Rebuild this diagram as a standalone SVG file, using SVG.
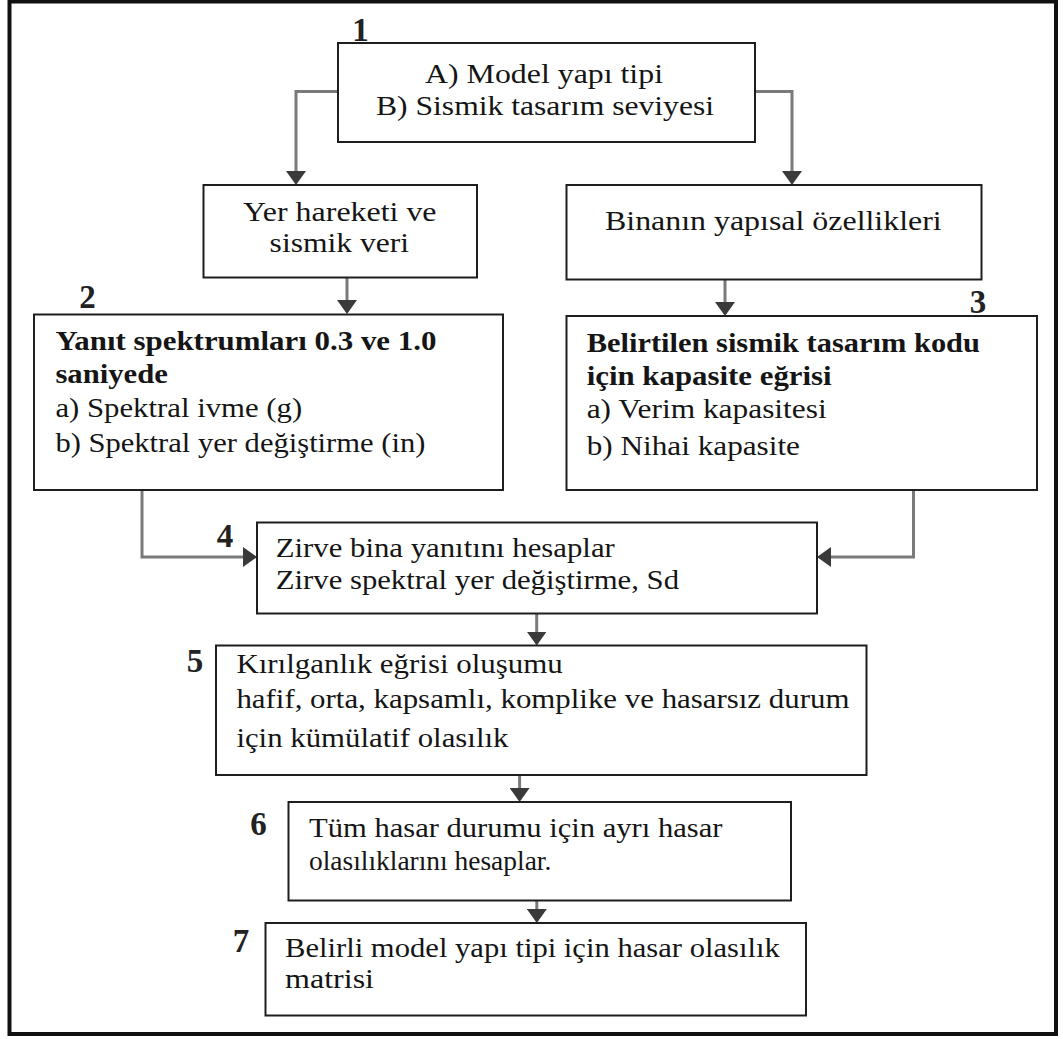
<svg xmlns="http://www.w3.org/2000/svg" width="1063" height="1039" viewBox="0 0 1063 1039">
<style>
.box{fill:#fff;stroke:#1e1e1e;stroke-width:2}
.t{font-family:"Liberation Serif","Times New Roman",serif;font-size:28px;fill:#151515}
.b{font-weight:bold}
.c{text-anchor:middle}
.num{font-family:"Liberation Serif","Times New Roman",serif;font-size:33px;font-weight:bold;fill:#222;text-anchor:middle}
.conn{fill:none;stroke:#7a7a7a;stroke-width:3}
</style>
<defs>
<marker id="ah" markerUnits="userSpaceOnUse" viewBox="0 0 14 20" refX="12" refY="10" markerWidth="14" markerHeight="20" orient="auto">
<path d="M0,0 L14,10 L0,20 z" fill="#3a3a3a"/>
</marker>
</defs>
<rect x="0" y="0" width="1063" height="1039" fill="#fff"/>
<rect id="frame" x="9.5" y="1.5" width="1046.5" height="1032.5" fill="none" stroke="#111" stroke-width="4"/>

<g id="connectors">
<path class="conn" d="M338,91.5 H296 V183" marker-end="url(#ah)"/>
<path class="conn" d="M755,91.5 H792 V183" marker-end="url(#ah)"/>
<path class="conn" d="M347,277.5 V312" marker-end="url(#ah)"/>
<path class="conn" d="M725,279.5 V314" marker-end="url(#ah)"/>
<path class="conn" d="M142,490 V557 H255" marker-end="url(#ah)"/>
<path class="conn" d="M913.5,490 V557 H819" marker-end="url(#ah)"/>
<path class="conn" d="M536.7,613.5 V643.5" marker-end="url(#ah)"/>
<path class="conn" d="M519.6,775 V800" marker-end="url(#ah)"/>
<path class="conn" d="M536.8,901 V921" marker-end="url(#ah)"/>
</g>

<g id="n1">
<rect class="box" x="338" y="43" width="417" height="99"/>
<text class="t" x="425" y="83" textLength="238" lengthAdjust="spacingAndGlyphs">A) Model yapı tipi</text>
<text class="t" x="376" y="115" textLength="338" lengthAdjust="spacingAndGlyphs">B) Sismik tasarım seviyesi</text>
<text class="num" x="360.5" y="41">1</text>
</g>

<g id="n_yer">
<rect class="box" x="203.5" y="185" width="273.5" height="92.5"/>
<text class="t" x="243" y="221" textLength="193.5" lengthAdjust="spacingAndGlyphs">Yer hareketi ve</text>
<text class="t" x="269.6" y="252" textLength="139.4" lengthAdjust="spacingAndGlyphs">sismik veri</text>
</g>

<g id="n_bina">
<rect class="box" x="566.5" y="185" width="415" height="94.5"/>
<text class="t" x="605" y="230" textLength="336.7" lengthAdjust="spacingAndGlyphs">Binanın yapısal özellikleri</text>
</g>

<g id="n2">
<rect class="box" x="34" y="314.5" width="469" height="175.5"/>
<text class="t b" x="55.4" y="350" textLength="381" lengthAdjust="spacingAndGlyphs">Yanıt spektrumları 0.3 ve 1.0</text>
<text class="t b" x="55.4" y="383.3" textLength="112.5" lengthAdjust="spacingAndGlyphs">saniyede</text>
<text class="t" x="55.4" y="416.5" textLength="246.8" lengthAdjust="spacingAndGlyphs">a) Spektral ivme (g)</text>
<text class="t" x="55.4" y="451.5" textLength="370" lengthAdjust="spacingAndGlyphs">b) Spektral yer değiştirme (in)</text>
<text class="num" x="87.5" y="308">2</text>
</g>

<g id="n3">
<rect class="box" x="566.5" y="316" width="470.5" height="174"/>
<text class="t b" x="586.7" y="351.7" textLength="393.3" lengthAdjust="spacingAndGlyphs">Belirtilen sismik tasarım kodu</text>
<text class="t b" x="586.7" y="384.5" textLength="245" lengthAdjust="spacingAndGlyphs">için kapasite eğrisi</text>
<text class="t" x="586.7" y="418.3" textLength="240" lengthAdjust="spacingAndGlyphs">a) Verim kapasitesi</text>
<text class="t" x="586.7" y="455.3" textLength="213.3" lengthAdjust="spacingAndGlyphs">b) Nihai kapasite</text>
<text class="num" x="978" y="313">3</text>
</g>

<g id="n4">
<rect class="box" x="257" y="522.5" width="560" height="91"/>
<text class="t" x="275.8" y="557" textLength="339" lengthAdjust="spacingAndGlyphs">Zirve bina yanıtını hesaplar</text>
<text class="t" x="275.8" y="589" textLength="403.2" lengthAdjust="spacingAndGlyphs">Zirve spektral yer değiştirme, Sd</text>
<text class="num" x="225" y="547">4</text>
</g>

<g id="n5">
<rect class="box" x="216" y="645.5" width="650.5" height="129.5"/>
<text class="t" x="236.4" y="673.3" textLength="326.4" lengthAdjust="spacingAndGlyphs">Kırılganlık eğrisi oluşumu</text>
<text class="t" x="236.4" y="707.5" textLength="613" lengthAdjust="spacingAndGlyphs">hafif, orta, kapsamlı, komplike ve hasarsız durum</text>
<text class="t" x="236.4" y="747" textLength="272" lengthAdjust="spacingAndGlyphs">için kümülatif olasılık</text>
<text class="num" x="195" y="672">5</text>
</g>

<g id="n6">
<rect class="box" x="288.5" y="802" width="502.5" height="98.5"/>
<text class="t" x="309" y="836.7" textLength="413.4" lengthAdjust="spacingAndGlyphs">Tüm hasar durumu için ayrı hasar</text>
<text class="t" x="309" y="870" textLength="242.3" lengthAdjust="spacingAndGlyphs">olasılıklarını hesaplar.</text>
<text class="num" x="258.5" y="835">6</text>
</g>

<g id="n7">
<rect class="box" x="265.5" y="923" width="540.5" height="92.5"/>
<text class="t" x="285" y="956.7" textLength="494.8" lengthAdjust="spacingAndGlyphs">Belirli model yapı tipi için hasar olasılık</text>
<text class="t" x="285" y="988.3" textLength="89" lengthAdjust="spacingAndGlyphs">matrisi</text>
<text class="num" x="241" y="952">7</text>
</g>
</svg>
